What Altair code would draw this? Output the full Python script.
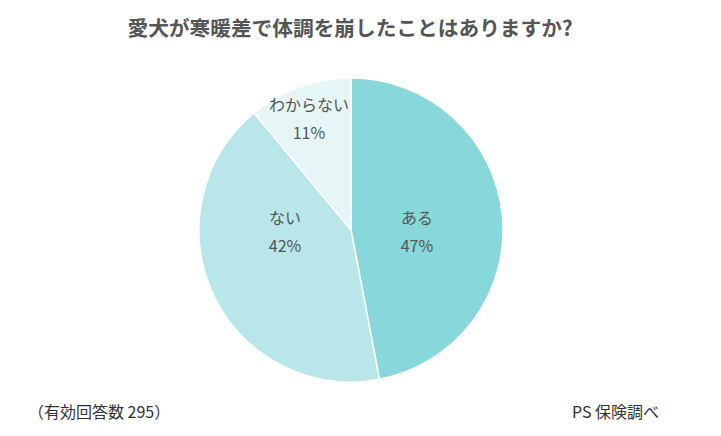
import altair as alt
import pandas as pd

title_text = "愛犬が寒暖差で体調を崩したことはありますか?"
note_left = "（有効回答数 295）"
note_right = "PS 保険調べ"

categories = ["ある", "ない", "わからない"]
values = [47, 42, 11]
order_idx = [0, 1, 2]
colors = ["#88d7db", "#b9e7e9", "#e6f5f6"]

FONT = "Noto Sans CJK JP"
TXT = "#555555"

df = pd.DataFrame({"cat": categories, "val": values, "idx": order_idx})

base = alt.Chart(df)

arcs = base.mark_arc(outerRadius=152, stroke="white", strokeWidth=1.5).encode(
    theta=alt.Theta("val:Q", stack=True, scale=alt.Scale(domain=[0, 100])),
    order=alt.Order("idx:Q"),
    color=alt.Color("cat:N", scale=alt.Scale(domain=categories, range=colors), legend=None),
)

labels = base.transform_window(
    cum="sum(val)", sort=[alt.SortField("idx")]
).transform_calculate(
    mid="datum.cum - datum.val / 2",
    la="datum.val < 20 ? 94.2 : (datum.mid < 50 ? 25.8 : 74.3)",
    r="datum.val < 20 ? 118 : 66",
    lbl="datum.cat + '\\n' + datum.val + '%'",
).mark_text(
    font=FONT, fontSize=16, color=TXT, lineBreak="\n", lineHeight=28,
    align="center", baseline="middle", dy=-14,
).encode(
    theta=alt.Theta("la:Q", scale=alt.Scale(domain=[0, 100])),
    radius=alt.Radius("r:Q", scale=None),
    text="lbl:N",
)

ann = alt.Chart(pd.DataFrame({"t": [title_text]})).mark_text(
    font=FONT, fontSize=20.7, fontWeight="bold", color=TXT, align="center", baseline="middle"
).encode(x=alt.value(350), y=alt.value(6), text="t:N")

left = alt.Chart(pd.DataFrame({"t": [note_left]})).mark_text(
    font=FONT, fontSize=16, color="#333333", align="left", baseline="middle"
).encode(x=alt.value(28), y=alt.value(389), text="t:N")

right = alt.Chart(pd.DataFrame({"t": [note_right]})).mark_text(
    font=FONT, fontSize=16, color="#333333", align="left", baseline="middle"
).encode(x=alt.value(572), y=alt.value(389), text="t:N")

chart = alt.layer(arcs, labels, ann, left, right).resolve_scale(
    theta="independent"
).properties(
    width=702, height=412,
    padding={"left": 0, "top": 24, "right": 19, "bottom": 0},
    autosize="none", background="white",
).configure_view(stroke=None)

chart.save("out.html", embed_options={"renderer": "svg", "actions": False})
